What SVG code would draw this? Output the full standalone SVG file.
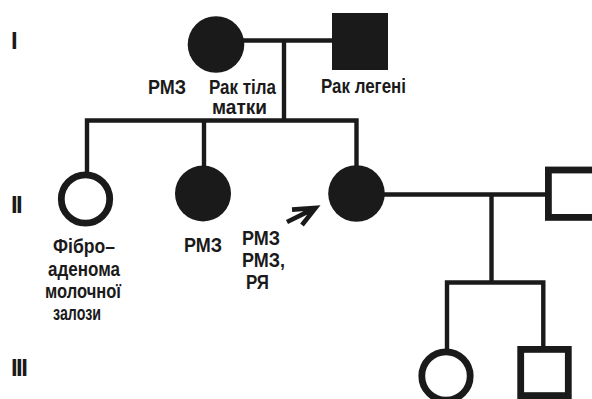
<svg xmlns="http://www.w3.org/2000/svg" width="592" height="399" viewBox="0 0 592 399">
<style>
.lbl{font-family:"Liberation Sans",Arial,sans-serif;font-size:21px;font-weight:bold;fill:#1a1a1a}
.gen{font-family:"Liberation Sans",Arial,sans-serif;font-size:24px;font-weight:bold;fill:#1a1a1a;letter-spacing:-1.6px}
.filled{fill:#1a1a1a;stroke:none}
.open{fill:#fff;stroke:#1a1a1a;stroke-width:6.8}
.ln{fill:none;stroke:#1a1a1a;stroke-width:4.4;stroke-linejoin:miter;stroke-linecap:butt}
</style>
<rect width="592" height="399" fill="#fff"/>
<g id="generations">
<text class="gen" x="11" y="48.5">I</text>
<text class="gen" x="11" y="212.5">II</text>
<text class="gen" x="11" y="375.5">III</text>
</g>
<g id="connectors">
<path class="ln" d="M240 40.5 H334"/>
<path class="ln" d="M284 40.5 V120.5"/>
<path class="ln" d="M87 172 V120.5 H356.5 V168"/>
<path class="ln" d="M204 120.5 V168"/>
<path class="ln" d="M380 194.5 H548"/>
<path class="ln" d="M491.5 194.5 V282.5"/>
<path class="ln" d="M447 350 V282.5 H543.3 V348"/>
<path class="ln" d="M287 222 L314 208.6 M292 209.6 L315.5 208 L302 225" style="stroke-width:4.6"/>
</g>
<g id="I-1">
<circle class="filled" cx="216" cy="44.5" r="28.3"/>
<text class="lbl" x="148" y="94" textLength="38" lengthAdjust="spacingAndGlyphs">РМЗ</text>
<text class="lbl" x="209" y="94" textLength="67" lengthAdjust="spacingAndGlyphs">Рак тіла</text>
<text class="lbl" x="212" y="114" textLength="55" lengthAdjust="spacingAndGlyphs">матки</text>
</g>
<g id="I-2">
<rect class="filled" x="332" y="13" width="56" height="57"/>
<text class="lbl" x="321" y="92.7" textLength="85" lengthAdjust="spacingAndGlyphs">Рак легені</text>
</g>
<g id="II-1">
<circle class="open" cx="85.5" cy="199" r="24.2"/>
<text class="lbl" x="84" y="253" text-anchor="middle" textLength="62" lengthAdjust="spacingAndGlyphs">Фібро–</text>
<text class="lbl" x="84" y="276" text-anchor="middle" textLength="72" lengthAdjust="spacingAndGlyphs">аденома</text>
<text class="lbl" x="83" y="298" text-anchor="middle" textLength="76" lengthAdjust="spacingAndGlyphs">молочної</text>
<text class="lbl" x="77" y="320" text-anchor="middle" textLength="48" lengthAdjust="spacingAndGlyphs">залози</text>
</g>
<g id="II-2">
<circle class="filled" cx="203" cy="193.5" r="28"/>
<text class="lbl" x="184" y="252" textLength="38" lengthAdjust="spacingAndGlyphs">РМЗ</text>
</g>
<g id="II-3">
<circle class="filled" cx="356.5" cy="193.5" r="28.3"/>
<text class="lbl" x="242" y="245" textLength="38" lengthAdjust="spacingAndGlyphs">РМЗ</text>
<text class="lbl" x="242" y="266.5" textLength="43" lengthAdjust="spacingAndGlyphs">РМЗ,</text>
<text class="lbl" x="246" y="288.5" textLength="23" lengthAdjust="spacingAndGlyphs">РЯ</text>
</g>
<g id="II-4">
<rect class="open" x="548.4" y="170" width="48" height="47.4"/>
</g>
<g id="III-1">
<circle class="open" cx="446" cy="376" r="24.2"/>
</g>
<g id="III-2">
<rect class="open" x="520.7" y="349.4" width="47.6" height="46.2"/>
</g>
</svg>
